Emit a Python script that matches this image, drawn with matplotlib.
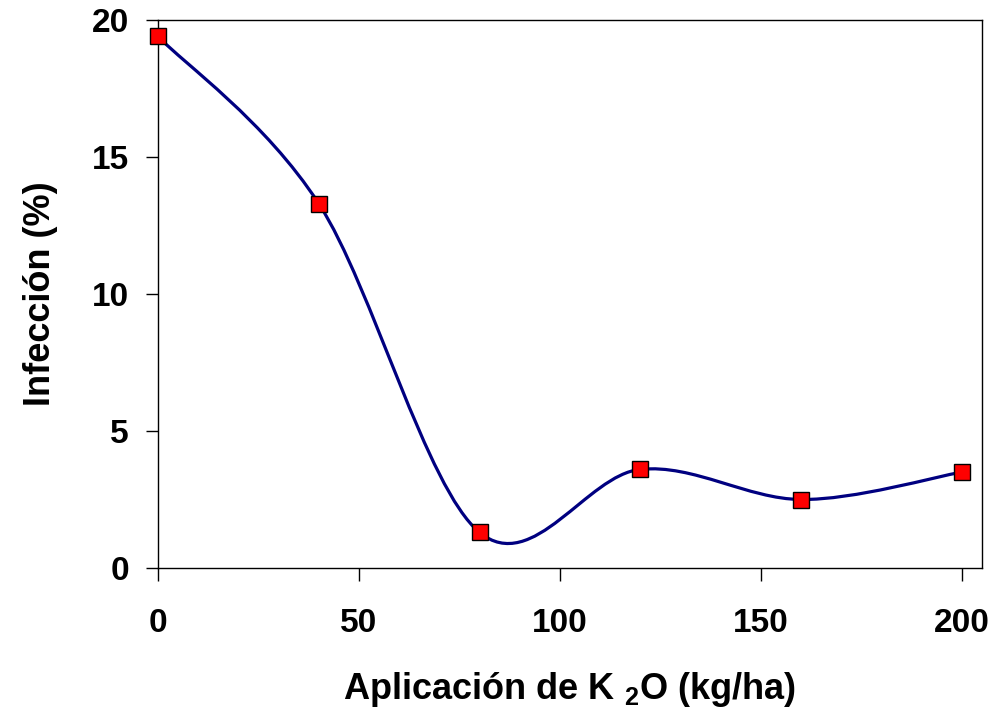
import matplotlib.pyplot as plt
from matplotlib.path import Path
from matplotlib.patches import PathPatch

plt.rcParams['font.family'] = ['Liberation Sans', 'DejaVu Sans']
plt.rcParams['font.weight'] = 'bold'
plt.rcParams['mathtext.fontset'] = 'custom'
plt.rcParams['mathtext.bf'] = 'Liberation Sans:bold'
plt.rcParams['mathtext.rm'] = 'Liberation Sans:bold'

# data
k2o = [0, 40, 80, 120, 160, 200]
infeccion = [19.4, 13.3, 1.3, 3.6, 2.5, 3.5]
xticks = [0, 50, 100, 150, 200]
yticks = [0, 5, 10, 15, 20]


def smooth_path(xs, ys):
    # Excel-like smoothed line: cubic Bezier through points
    pts = list(zip(xs, ys))
    n = len(pts)
    verts = [pts[0]]
    codes = [Path.MOVETO]
    for i in range(n - 1):
        p0 = pts[i - 1] if i > 0 else pts[i]
        p1 = pts[i]
        p2 = pts[i + 1]
        p3 = pts[i + 2] if i + 2 < n else pts[i + 1]
        c1 = (p1[0] + (p2[0] - p0[0]) / 6, p1[1] + (p2[1] - p0[1]) / 6)
        c2 = (p2[0] - (p3[0] - p1[0]) / 6, p2[1] - (p3[1] - p1[1]) / 6)
        verts += [c1, c2, p2]
        codes += [Path.CURVE4] * 3
    return Path(verts, codes)


fig = plt.figure(figsize=(9.95, 7.16), dpi=100)
ax = fig.add_axes([0.1588, 0.2067, 0.828, 0.7653])

ax.add_patch(PathPatch(smooth_path(k2o, infeccion), facecolor='none',
                       edgecolor='#000080', lw=2.3, zorder=2))
ax.plot(k2o, infeccion, ls='none', marker='s', markersize=12,
        markerfacecolor='#ff0000', markeredgecolor='black',
        markeredgewidth=1.0, clip_on=False, zorder=3)

ax.set_xlim(0, 205)
ax.set_ylim(0, 20)
ax.set_xticks(xticks)
ax.set_yticks(yticks)
ax.tick_params(direction='out', length=9, width=1, labelsize=24)
ax.tick_params(axis='x', pad=20)
ax.tick_params(axis='y', pad=12)
for s in ax.spines.values():
    s.set_linewidth(1.0)

ax.set_xlabel(r'Aplicación de K $_{\mathbf{2}}$O (kg/ha)', fontsize=26,
              fontweight='bold', labelpad=22)
ax.set_ylabel('Infección (%)', fontsize=26, fontweight='bold', labelpad=24)

fig.savefig('out.png', dpi=100)
